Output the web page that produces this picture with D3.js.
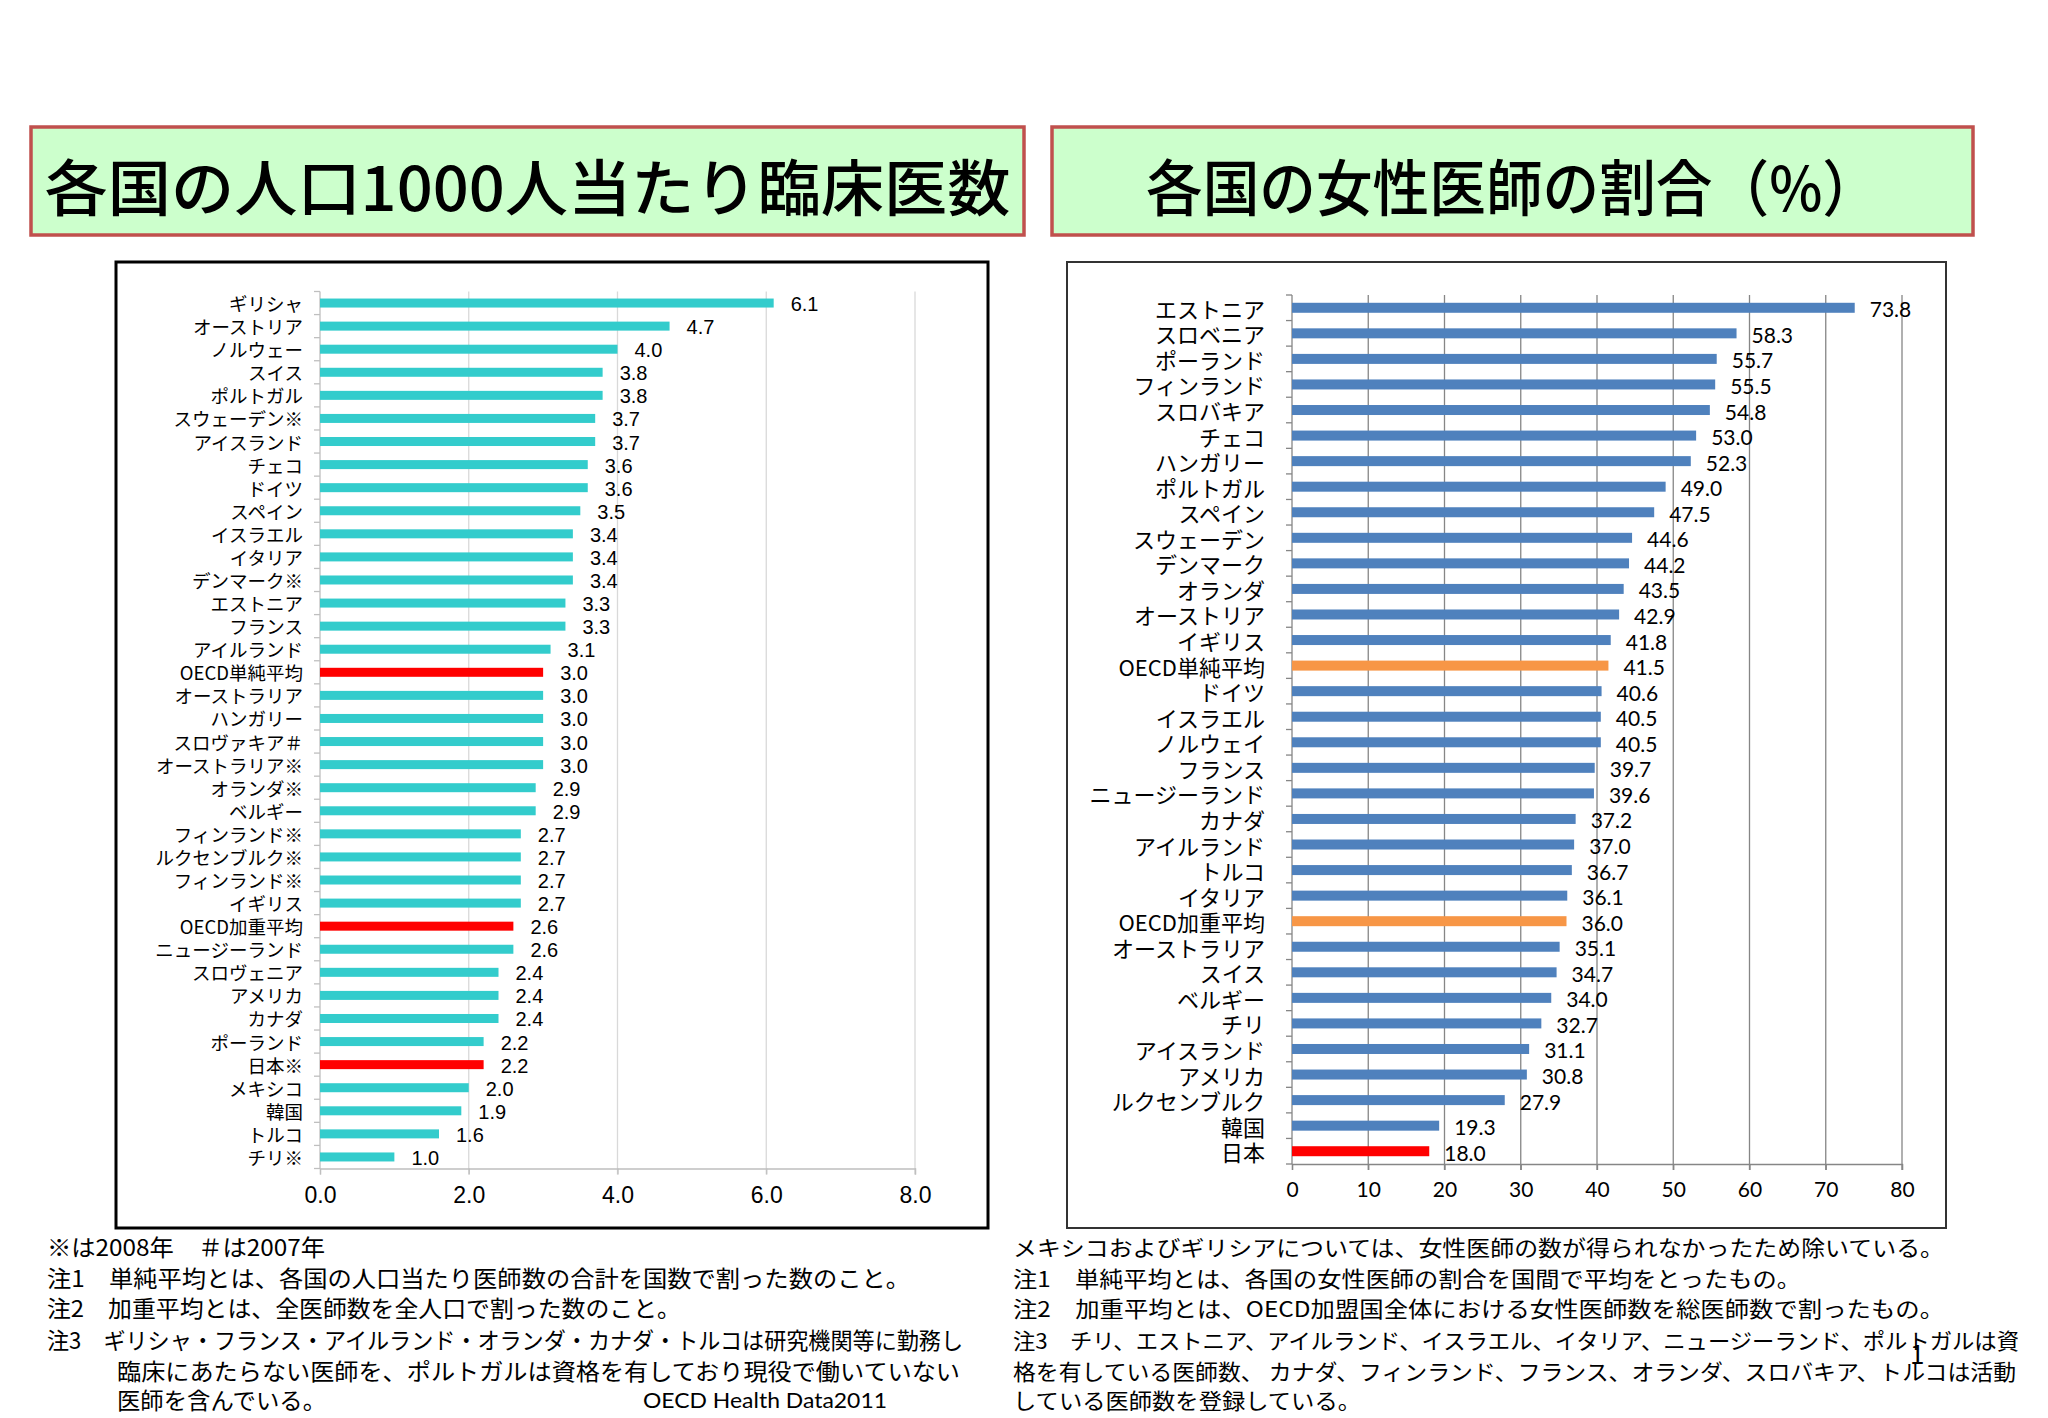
<!DOCTYPE html>
<html>
<head>
<meta charset="utf-8">
<script src="https://cdn.jsdelivr.net/npm/d3@7"></script>
<style>
  body { margin: 0; background: #fff; }
  svg { display: block; }
  text { font-family: "Noto Sans CJK JP", sans-serif; fill: #000; }
</style>
</head>
<body>
<svg id="canvas" width="2048" height="1418"></svg>
<script>
// 人口1000人当たり臨床医数
const doctorCountries = ["ギリシャ", "オーストリア", "ノルウェー", "スイス", "ポルトガル", "スウェーデン※", "アイスランド", "チェコ", "ドイツ", "スペイン", "イスラエル", "イタリア", "デンマーク※", "エストニア", "フランス", "アイルランド", "OECD単純平均", "オーストラリア", "ハンガリー", "スロヴァキア＃", "オーストラリア※", "オランダ※", "ベルギー", "フィンランド※", "ルクセンブルク※", "フィンランド※", "イギリス", "OECD加重平均", "ニュージーランド", "スロヴェニア", "アメリカ", "カナダ", "ポーランド", "日本※", "メキシコ", "韓国", "トルコ", "チリ※"]
const doctorValues = [6.1, 4.7, 4.0, 3.8, 3.8, 3.7, 3.7, 3.6, 3.6, 3.5, 3.4, 3.4, 3.4, 3.3, 3.3, 3.1, 3.0, 3.0, 3.0, 3.0, 3.0, 2.9, 2.9, 2.7, 2.7, 2.7, 2.7, 2.6, 2.6, 2.4, 2.4, 2.4, 2.2, 2.2, 2.0, 1.9, 1.6, 1.0]
const doctorTicks = [0, 2, 4, 6, 8]
const doctorRed = ["OECD単純平均", "OECD加重平均", "日本※"]

// 女性医師の割合（%）
const femaleCountries = ["エストニア", "スロベニア", "ポーランド", "フィンランド", "スロバキア", "チェコ", "ハンガリー", "ポルトガル", "スペイン", "スウェーデン", "デンマーク", "オランダ", "オーストリア", "イギリス", "OECD単純平均", "ドイツ", "イスラエル", "ノルウェイ", "フランス", "ニュージーランド", "カナダ", "アイルランド", "トルコ", "イタリア", "OECD加重平均", "オーストラリア", "スイス", "ベルギー", "チリ", "アイスランド", "アメリカ", "ルクセンブルク", "韓国", "日本"]
const femaleValues = [73.8, 58.3, 55.7, 55.5, 54.8, 53.0, 52.3, 49.0, 47.5, 44.6, 44.2, 43.5, 42.9, 41.8, 41.5, 40.6, 40.5, 40.5, 39.7, 39.6, 37.2, 37.0, 36.7, 36.1, 36.0, 35.1, 34.7, 34.0, 32.7, 31.1, 30.8, 27.9, 19.3, 18.0]
const femaleTicks = [0, 10, 20, 30, 40, 50, 60, 70, 80]
const femaleOrange = ["OECD単純平均", "OECD加重平均"]
const femaleRed = ["日本"]

const titles = ["各国の人口1000人当たり臨床医数", "各国の女性医師の割合（%）"]

const notesLeft = [
  "※は2008年　＃は2007年",
  "注1　単純平均とは、各国の人口当たり医師数の合計を国数で割った数のこと。",
  "注2　加重平均とは、全医師数を全人口で割った数のこと。",
  "注3　ギリシャ・フランス・アイルランド・オランダ・カナダ・トルコは研究機関等に勤務し",
  "臨床にあたらない医師を、ポルトガルは資格を有しており現役で働いていない",
  "医師を含んでいる。"
]
const notesRight = [
  "メキシコおよびギリシアについては、女性医師の数が得られなかったため除いている。",
  "注1　単純平均とは、各国の女性医師の割合を国間で平均をとったもの。",
  "注2　加重平均とは、OECD加盟国全体における女性医師数を総医師数で割ったもの。",
  "注3　チリ、エストニア、アイルランド、イスラエル、イタリア、ニュージーランド、ポルトガルは資",
  "格を有している医師数、 カナダ、フィンランド、フランス、オランダ、スロバキア、トルコは活動",
  "している医師数を登録している。"
]
const source = "OECD Health Data2011"

const canvas = d3.select("#canvas")

canvas.append("rect").attr("width", 2048).attr("height", 1418).attr("fill", "#fff")

// タイトル枠
const drawTitle = (text, x, w, len) => {
  canvas.append("rect")
        .attr("x", x).attr("y", 127).attr("width", w).attr("height", 108)
        .attr("fill", "#ccffcc").attr("stroke", "#c0504d").attr("stroke-width", 3.5)
  canvas.append("text")
        .attr("x", x + w / 2).attr("y", 184)
        .attr("text-anchor", "middle").attr("dominant-baseline", "central")
        .attr("font-size", 61).attr("font-weight", 500)
        .attr("textLength", len).attr("lengthAdjust", "spacingAndGlyphs")
        .text(text)
}
drawTitle(titles[0], 31, 993, 966)
drawTitle(titles[1], 1052, 921, 733)

const drawBars = (opt) => {
  const x = d3.scaleLinear().domain(opt.domain).range([opt.left, opt.right])
  const y = d3.scaleBand().domain(opt.names.map((d, i) => i)).range([opt.top, opt.bottom])
  const g = canvas.append("g")

  // 枠
  g.append("rect")
   .attr("x", opt.box[0]).attr("y", opt.box[1])
   .attr("width", opt.box[2] - opt.box[0]).attr("height", opt.box[3] - opt.box[1])
   .attr("fill", "none").attr("stroke", opt.boxColor).attr("stroke-width", opt.boxWidth)

  // 目盛線
  g.selectAll(".grid")
   .data(opt.ticks.filter(t => t > 0))
   .enter()
   .append("line")
   .attr("x1", t => x(t)).attr("x2", t => x(t))
   .attr("y1", opt.top).attr("y2", opt.bottom + 6)
   .attr("stroke", opt.gridColor).attr("stroke-width", 1.3)

  // x軸
  const xAxis = d3.axisBottom(x).tickValues(opt.ticks).tickFormat(opt.format).tickSize(6).tickPadding(12)
  const ax = g.append("g").attr("transform", "translate(0," + opt.bottom + ")").call(xAxis)
  ax.select(".domain").attr("stroke", opt.axisColor).attr("stroke-width", 1.3)
  ax.selectAll(".tick line").attr("stroke", opt.axisColor).attr("stroke-width", 1.3)
  ax.selectAll(".tick text")
    .attr("font-size", opt.tickSize).attr("fill", "#000")
    .style("font-family", opt.numFont)

  // y軸
  g.append("line")
   .attr("x1", opt.left).attr("x2", opt.left)
   .attr("y1", opt.top).attr("y2", opt.bottom)
   .attr("stroke", opt.axisColor).attr("stroke-width", 1.3)
  g.selectAll(".ytick")
   .data(d3.range(opt.names.length + 1))
   .enter()
   .append("line")
   .attr("x1", opt.left - 6).attr("x2", opt.left)
   .attr("y1", i => opt.top + i * y.step()).attr("y2", i => opt.top + i * y.step())
   .attr("stroke", opt.axisColor).attr("stroke-width", 1.3)

  const block = g.selectAll(".bar")
                 .data(opt.values.map((v, i) => ({ name: opt.names[i], value: v, i: i })))
                 .enter()
                 .append("g")

  block.append("rect")
       .attr("x", x(0))
       .attr("y", d => y(d.i) + y.bandwidth() / 2 - opt.barHeight / 2)
       .attr("width", d => x(d.value) - x(0))
       .attr("height", opt.barHeight)
       .attr("fill", d => opt.color(d.name))

  block.append("text")
       .attr("x", opt.labelX)
       .attr("y", d => y(d.i) + y.bandwidth() / 2)
       .attr("text-anchor", "end")
       .attr("dominant-baseline", "central")
       .attr("font-size", opt.nameSize)
       .text(d => d.name)

  block.append("text")
       .attr("x", d => x(d.value) + opt.valueGap)
       .attr("y", d => y(d.i) + y.bandwidth() / 2 + 1)
       .attr("dominant-baseline", "central")
       .attr("font-size", opt.valueSize)
       .style("font-family", opt.numFont)
       .text(d => d3.format(".1f")(d.value))
}

drawBars({
  names: doctorCountries, values: doctorValues, ticks: doctorTicks, domain: [0, 8],
  format: d3.format(".1f"),
  left: 320, right: 915, top: 291.5, bottom: 1168.5,
  box: [116, 262, 988, 1228], boxColor: "#000", boxWidth: 3,
  gridColor: "#d9d9d9", axisColor: "#bfbfbf",
  barHeight: 9, labelX: 303, nameSize: 18.5, valueSize: 20, valueGap: 17, tickSize: 23,
  numFont: "'Liberation Sans', Arial, sans-serif",
  color: (name) => doctorRed.includes(name) ? "#ff0000" : "#33cccc"
})

drawBars({
  names: femaleCountries, values: femaleValues, ticks: femaleTicks, domain: [0, 80],
  format: d3.format("d"),
  left: 1292, right: 1902, top: 295, bottom: 1164,
  box: [1067, 262, 1946, 1228], boxColor: "#333", boxWidth: 2,
  gridColor: "#868686", axisColor: "#868686",
  barHeight: 10, labelX: 1265, nameSize: 22, valueSize: 21, valueGap: 15, tickSize: 21,
  numFont: "Lato, 'Open Sans', sans-serif",
  color: (name) => femaleRed.includes(name) ? "#ff0000" : (femaleOrange.includes(name) ? "#f79646" : "#4f81bd")
})

// 注記（行の幅は元の図に合わせる）
const noteY = [1246, 1277, 1307, 1339, 1370, 1399]
const leftNoteX = [47, 47, 47, 47, 117, 117]
const leftNoteW = [278, 863, 634, 916, 843, 209]
const rightNoteW = [931, 788, 931, 1006, 1003, 348]

canvas.append("g").selectAll("text")
      .data(notesLeft)
      .enter()
      .append("text")
      .attr("x", (d, i) => leftNoteX[i])
      .attr("y", (d, i) => noteY[i])
      .attr("dominant-baseline", "central")
      .attr("font-size", 23)
      .attr("textLength", (d, i) => leftNoteW[i])
      .attr("lengthAdjust", "spacingAndGlyphs")
      .text(d => d)

canvas.append("text")
      .attr("x", 643).attr("y", noteY[5])
      .attr("dominant-baseline", "central")
      .attr("font-size", 22)
      .attr("textLength", 244)
      .attr("lengthAdjust", "spacingAndGlyphs")
      .style("font-family", "Lato, 'Open Sans', sans-serif")
      .text(source)

canvas.append("g").selectAll("text")
      .data(notesRight)
      .enter()
      .append("text")
      .attr("x", 1013)
      .attr("y", (d, i) => noteY[i])
      .attr("dominant-baseline", "central")
      .attr("font-size", 21.5)
      .attr("textLength", (d, i) => rightNoteW[i])
      .attr("lengthAdjust", "spacingAndGlyphs")
      .text(d => d)

canvas.append("text")
      .attr("x", 1910).attr("y", 1352)
      .attr("dominant-baseline", "central")
      .attr("font-size", 26)
      .text("1")
</script>
</body>
</html>
